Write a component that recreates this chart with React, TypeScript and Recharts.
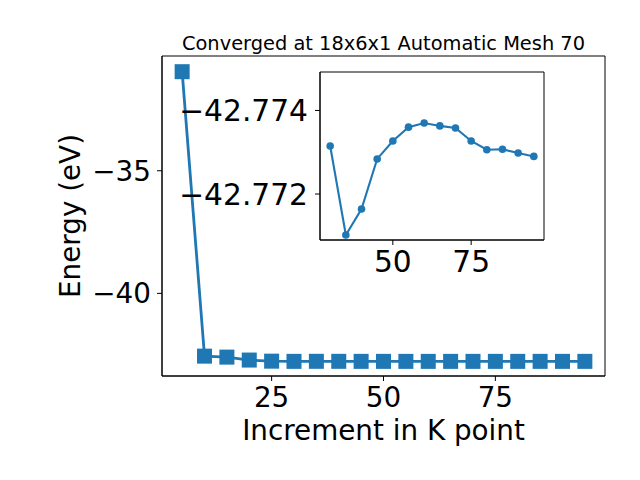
import React from "react";
import {
  LineChart,
  Line,
  XAxis,
  YAxis,
  Label,
  ReferenceArea,
} from "recharts";

// k-point increments and total energies (eV)
const kPoints = [5, 10, 15, 20, 25, 30, 35, 40, 45, 50, 55, 60, 65, 70, 75, 80, 85, 90, 95];
const energy = [
  -30.96, -42.56, -42.6, -42.72, -42.765,
  -42.77315, -42.77102, -42.77164, -42.77284, -42.77327, -42.7736, -42.7737,
  -42.77363, -42.77358, -42.77327, -42.77306, -42.77307, -42.77298, -42.7729,
];
const insetStart = 5; // the inset zooms in from k = 30

const mainXTicks = [25, 50, 75];
const mainYTicks = [-40, -35];
const insetXTicks = [50, 75];
const insetYTicks = [-42.774, -42.772];

const mainXDomain: [number, number] = [0.5, 99.5];
const mainYDomain: [number, number] = [-43.37, -30.32];
const insetXDomain: [number, number] = [26.75, 98.25];
const insetYDomain: [number, number] = [-42.77492, -42.7709];

const mainData = kPoints.map((k, i) => ({ k, e: energy[i] }));
const insetData = mainData.slice(insetStart);

const BLUE = "#1f77b4";
const FONT = "'DejaVu Sans', sans-serif";
const TICK = { fill: "#000", fontSize: 27.8, fontFamily: FONT };
const INSET_TICK = { fill: "#000", fontSize: 29.7, fontFamily: FONT };

const minus = (s: string) => s.replace("-", "\u2212");

const SquareDot = (props: any) => {
  const { cx, cy, index } = props;
  if (cx == null || cy == null) return <g key={index} />;
  return <rect key={index} x={cx - 7.5} y={cy - 7.5} width={15} height={15} fill={BLUE} />;
};

export default function App() {
  return (
    <div
      style={{
        position: "fixed",
        left: 0,
        top: 0,
        width: 640,
        height: 480,
        background: "#fff",
        fontFamily: FONT,
      }}
    >
      <div style={{ position: "absolute", left: 0, top: 0 }}>
        <LineChart width={640} height={480} data={mainData} margin={{ top: 56, right: 35, left: 0, bottom: 0 }}>
          <XAxis
            dataKey="k"
            type="number"
            domain={mainXDomain}
            ticks={mainXTicks}
            allowDataOverflow
            height={104}
            stroke="#000"
            tickSize={5}
            tickMargin={6}
            tick={TICK}
          >
            <Label
              value="Increment in K point"
              position="insideBottom"
              offset={40}
              style={{ fill: "#000", fontSize: 27.8, fontFamily: FONT }}
            />
          </XAxis>
          <YAxis
            dataKey="e"
            type="number"
            domain={mainYDomain}
            ticks={mainYTicks}
            allowDataOverflow
            width={162}
            stroke="#000"
            tickSize={5}
            tickMargin={6}
            tick={TICK}
            tickFormatter={(v: number) => minus(String(v))}
          >
            <Label
              value="Energy (eV)"
              angle={-90}
              position="insideLeft"
              offset={70.6}
              style={{ fill: "#000", fontSize: 27.8, fontFamily: FONT, textAnchor: "middle" }}
            />
          </YAxis>
          <ReferenceArea
            x1={mainXDomain[0]}
            x2={mainXDomain[1]}
            y1={mainYDomain[0]}
            y2={mainYDomain[1]}
            fill="none"
            stroke="#000"
            strokeWidth={1}
          />
          <Line
            dataKey="e"
            stroke={BLUE}
            strokeWidth={2.8}
            dot={SquareDot}
            activeDot={false}
            isAnimationActive={false}
          />
        </LineChart>
      </div>

      <div style={{ position: "absolute", left: 170, top: 60 }}>
        <LineChart width={390} height={240} data={insetData} margin={{ top: 12, right: 16, left: 0, bottom: 0 }}>
          <XAxis
            dataKey="k"
            type="number"
            domain={insetXDomain}
            ticks={insetXTicks}
            allowDataOverflow
            height={60}
            stroke="#000"
            tickSize={5}
            tickMargin={6}
            tick={INSET_TICK}
          />
          <YAxis
            dataKey="e"
            type="number"
            domain={insetYDomain}
            ticks={insetYTicks}
            reversed
            allowDataOverflow
            width={150}
            stroke="#000"
            tickSize={5}
            tickMargin={7}
            tick={INSET_TICK}
            tickFormatter={(v: number) => minus(v.toFixed(3))}
          />
          <ReferenceArea
            x1={insetXDomain[0]}
            x2={insetXDomain[1]}
            y1={insetYDomain[0]}
            y2={insetYDomain[1]}
            fill="none"
            stroke="#000"
            strokeWidth={1}
          />
          <Line
            dataKey="e"
            stroke={BLUE}
            strokeWidth={2.1}
            dot={{ r: 3.8, fill: BLUE, stroke: BLUE, strokeWidth: 0 }}
            activeDot={false}
            isAnimationActive={false}
          />
        </LineChart>
      </div>

      <svg width={640} height={60} style={{ position: "absolute", left: 0, top: 0 }}>
        <text x={383.5} y={50} textAnchor="middle" fontSize={19.4} fontFamily={FONT} fill="#000">
          Converged at 18x6x1 Automatic Mesh 70
        </text>
      </svg>
    </div>
  );
}
